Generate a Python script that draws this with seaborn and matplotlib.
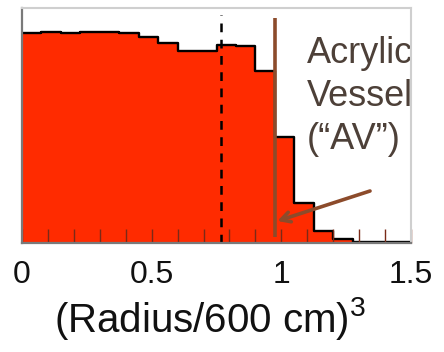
import numpy as np
import pandas as pd
import matplotlib
matplotlib.use("Agg")
import matplotlib.pyplot as plt
import seaborn as sns

# Histogram of event positions in (R / 600 cm)^3, 20 equal bins from 0 to 1.5
bin_width = 0.075
bin_range = (0.0, 1.5)
bin_centers = [0.0375, 0.1125, 0.1875, 0.2625, 0.3375, 0.4125, 0.4875, 0.5625,
               0.6375, 0.7125, 0.7875, 0.8625, 0.9375, 1.0125, 1.0875, 1.1625,
               1.2375, 1.3125, 1.3875, 1.4625]
bin_counts = [210, 211, 210, 211, 211, 210, 206, 200, 192, 192,
              198, 197, 172, 106, 40, 12, 4, 1.5, 1, 1]

fiducial_cut = 0.767      # dashed line
vessel_position = 0.976   # acrylic vessel radius
xtick_values = [0, 0.5, 1.0, 1.5]
xtick_labels = ["0", "0.5", "1", "1.5"]
vessel_label = "Acrylic\nVessel\n(\u201cAV\u201d)"
x_label = "(Radius/600 cm)$^3$"

df = pd.DataFrame({"r3": bin_centers, "n": bin_counts})

sns.set_theme(style="white")
plt.rcParams["font.family"] = ["Liberation Sans", "DejaVu Sans"]
plt.rcParams["mathtext.fontset"] = "custom"
plt.rcParams["mathtext.rm"] = "Liberation Sans"

fig = plt.figure(figsize=(4.44, 3.52), dpi=100)
ax = fig.add_axes([22 / 444, 1 - 243 / 352, (411 - 22) / 444, (243 - 8) / 352])

red = "#FF2B00"
brown = "#8C4B2B"

# filled histogram body
sns.histplot(data=df, x="r3", weights="n", binwidth=bin_width, binrange=bin_range,
             element="step", fill=True, color=red, alpha=1.0, linewidth=0, ax=ax)
# black outline along the top of the bins
sns.histplot(data=df, x="r3", weights="n", binwidth=bin_width, binrange=bin_range,
             element="step", fill=False, color="black", linewidth=1.7, ax=ax)

ax.set_xlim(0, 1.5)
ax.set_ylim(0, 235)
ax.set_axisbelow(False)

# dashed fiducial line
ax.axvline(fiducial_cut, ymin=0, ymax=(243 - 15) / 235, color="black",
           linestyle=(0, (3.5, 3)), linewidth=1.8, zorder=3)

# acrylic vessel marker
ax.plot([vessel_position, vessel_position], [6, 225], color=brown,
        linewidth=2.6, solid_capstyle="butt", zorder=4)
ax.annotate("", xy=(0.985, 22), xytext=(1.342, 52),
            arrowprops=dict(arrowstyle="->,head_length=0.55,head_width=0.3",
                            color=brown, lw=2.6, shrinkA=0, shrinkB=0),
            zorder=4)
ax.text(1.098, 207, vessel_label, color="#4D4038", fontsize=26,
        ha="left", va="top", linespacing=1.3, zorder=5, clip_on=False)

# ticks: minor every 0.1 inside, labels at majors
ax.set_xticks(xtick_values)
ax.set_xticklabels(xtick_labels, fontsize=23, color="#111111")
ax.set_xticks(np.arange(0.1, 1.5, 0.1), minor=True)
ax.tick_params(axis="x", which="both", direction="in", length=10, width=1.0,
               color="#7a2a18", bottom=True, top=False, pad=12)
ax.set_yticks([])
ax.set_ylabel("")
ax.set_xlabel(x_label, fontsize=29, color="#111111", labelpad=4)
ax.xaxis.label.set_x((210 - 22) / 389)

for side in ["top", "right"]:
    ax.spines[side].set_color("#cfcfcf")
    ax.spines[side].set_linewidth(1.5)
for side in ["left", "bottom"]:
    ax.spines[side].set_color("#7a7a7a")
    ax.spines[side].set_linewidth(1.6)
for s in ax.spines.values():
    s.set_zorder(6)

fig.savefig("out.png", dpi=100)
